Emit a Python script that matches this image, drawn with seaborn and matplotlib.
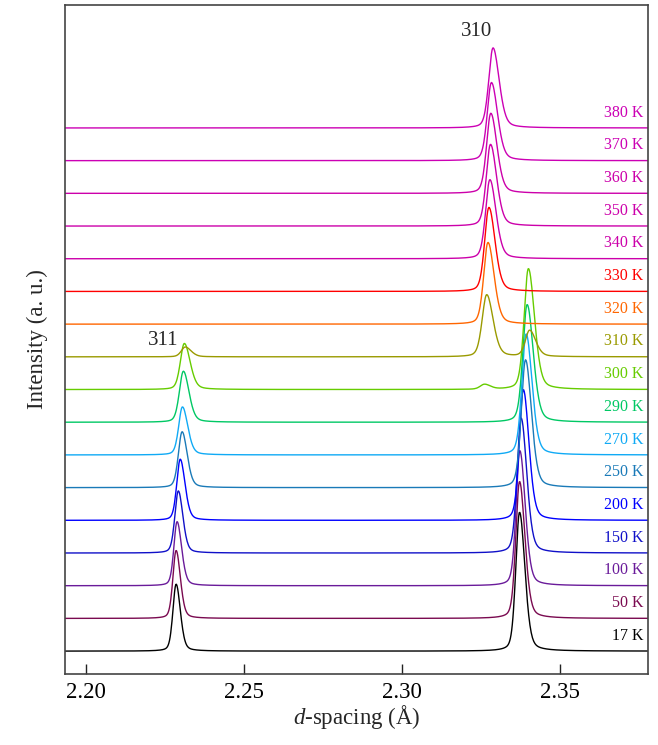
import numpy as np
import pandas as pd
import matplotlib
matplotlib.use("Agg")
import matplotlib.pyplot as plt
import seaborn as sns

sns.set_theme(style="ticks")
plt.rcParams["font.family"] = ["Liberation Serif", "DejaVu Serif"]
plt.rcParams["mathtext.fontset"] = "custom"
plt.rcParams["mathtext.rm"] = "Liberation Serif"
plt.rcParams["mathtext.it"] = "Liberation Serif:italic"

# Temperatures (bottom to top) and their colours
temps = ["17 K", "50 K", "100 K", "150 K", "200 K", "250 K", "270 K", "290 K",
         "300 K", "310 K", "320 K", "330 K", "340 K", "350 K", "360 K", "370 K", "380 K"]
colors = ["#000000", "#7a0a50", "#6a1b9a", "#1010c8", "#0000ff", "#1a7ab8", "#10aaf5",
          "#00c864", "#66cc00", "#9a9a00", "#ff6600", "#ff0000", "#cc00aa",
          "#cc00aa", "#cc00aa", "#cc00b4", "#cc00b4"]

# (311) reflection: position (Å), height (a.u.), widths (left / right HWHM)
p311_pos = [2.2285, 2.2285, 2.2288, 2.2292, 2.2298, 2.2304, 2.2305, 2.2308, 2.2311, 2.2314,
            0, 0, 0, 0, 0, 0, 0]
p311_h = [2.05, 2.08, 1.96, 1.90, 1.87, 1.71, 1.47, 1.56, 1.41, 0.30,
          0, 0, 0, 0, 0, 0, 0]
p311_wl = [0.0012, 0.0012, 0.0012, 0.0013, 0.0013, 0.0014, 0.0014, 0.0015, 0.0015, 0.0015,
           0, 0, 0, 0, 0, 0, 0]
p311_wr = [0.0016, 0.0016, 0.0017, 0.0017, 0.0018, 0.0019, 0.0020, 0.0021, 0.0022, 0.0022,
           0, 0, 0, 0, 0, 0, 0]

# Low-temperature (310) reflection near 2.34 Å
pA_pos = [2.3373, 2.3373, 2.3374, 2.3378, 2.3385, 2.3392, 2.3394, 2.3397, 2.3401, 2.3405,
          0, 0, 0, 0, 0, 0, 0]
pA_h = [4.25, 4.19, 4.13, 4.13, 4.00, 3.91, 3.70, 3.60, 3.70, 0.80,
        0, 0, 0, 0, 0, 0, 0]
pA_wl = [0.0014, 0.0014, 0.0014, 0.0015, 0.0015, 0.0016, 0.0016, 0.0016, 0.0016, 0.0016,
         0, 0, 0, 0, 0, 0, 0]
pA_wr = [0.0020, 0.0020, 0.0020, 0.0021, 0.0021, 0.0022, 0.0022, 0.0023, 0.0023, 0.0023,
         0, 0, 0, 0, 0, 0, 0]

# High-temperature (310) reflection near 2.33 Å
pB_pos = [0, 0, 0, 0, 0, 0, 0, 0, 2.3262, 2.3269,
          2.3273, 2.3276, 2.3279, 2.3281, 2.3282, 2.3284, 2.3289]
pB_h = [0, 0, 0, 0, 0, 0, 0, 0, 0.15, 1.90,
        2.50, 2.57, 2.42, 2.50, 2.45, 2.39, 2.45]
pB_wl = [0, 0, 0, 0, 0, 0, 0, 0, 0.0016, 0.0017,
         0.0016, 0.0016, 0.0016, 0.0016, 0.0016, 0.0016, 0.0016]
pB_wr = [0, 0, 0, 0, 0, 0, 0, 0, 0.0022, 0.0024,
         0.0023, 0.0023, 0.0023, 0.0023, 0.0023, 0.0023, 0.0023]

xticks = [2.20, 2.25, 2.30, 2.35]
spacing = 1.0


def split_pv(d, c, h, wl, wr, eta=0.3):
    if h == 0:
        return np.zeros_like(d)
    w = np.where(d < c, wl, wr)
    u = (d - c) / w
    return h * (eta / (1 + u ** 2) + (1 - eta) * np.exp(-np.log(2) * u ** 2))


d = np.arange(2.1930, 2.3785, 0.0002)
frames = []
for i, t in enumerate(temps):
    y = (split_pv(d, p311_pos[i], p311_h[i], p311_wl[i], p311_wr[i])
         + split_pv(d, pA_pos[i], pA_h[i], pA_wl[i], pA_wr[i])
         + split_pv(d, pB_pos[i], pB_h[i], pB_wl[i], pB_wr[i]))
    frames.append(pd.DataFrame({"d": d, "I": y + i * spacing, "T": t}))
df = pd.concat(frames, ignore_index=True)

fig = plt.figure(figsize=(6.58, 7.45), dpi=100)
ax = fig.add_axes([65 / 658, 71 / 745, 583 / 658, 669 / 745])

sns.lineplot(data=df, x="d", y="I", hue="T", hue_order=temps,
             palette=dict(zip(temps, colors)), estimator=None, sort=False,
             legend=False, linewidth=1.0, ax=ax)

for i, t in enumerate(temps):
    ax.text(2.3765, i * spacing + 0.47, t, color=colors[i], fontsize=11.5,
            ha="right", va="center")

ax.text(2.3237, 18.96, "310", fontsize=15, ha="center", va="center")
ax.text(2.2244, 9.51, "311", fontsize=15, ha="center", va="center")

ax.set_xlim(2.1933, 2.378)
ax.set_ylim(-0.70, 19.76)
ax.set_xticks(xticks)
ax.set_xticklabels([f"{v:.2f}" for v in xticks])
ax.set_yticks([])
ax.tick_params(axis="x", direction="in", length=7, width=1, labelsize=16.5, pad=6,
               colors="#222222", labelcolor="black")
ax.set_xlabel(r"$d$-spacing (Å)", fontsize=16.5, labelpad=0)
ax.set_ylabel("Intensity (a. u.)", fontsize=16.5, labelpad=12)
for s in ax.spines.values():
    s.set_color("#444444")
    s.set_linewidth(1.2)

fig.savefig("out.png", dpi=100)
